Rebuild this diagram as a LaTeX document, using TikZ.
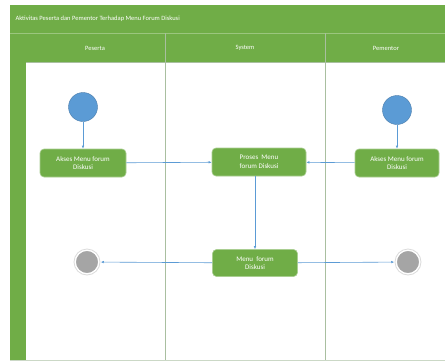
\documentclass[tikz,border=0pt]{standalone}
\usepackage{fontspec}
\setmainfont{Carlito}
\usetikzlibrary{arrows.meta}
\definecolor{lgreen}{HTML}{70AD47}
\definecolor{lblue}{HTML}{5B9BD5}
\definecolor{lgray}{HTML}{A5A5A5}
\definecolor{ldiv}{HTML}{A9BFA0}
\tikzset{
  act/.style={draw=lgreen!60!white, line width=0.6pt, fill=lgreen, rounded corners=4pt, text=white, font=\fontsize{7}{8.5}\selectfont, align=center, minimum width=86pt, minimum height=28pt, inner sep=1pt},
  startnode/.style={circle, fill=lblue, draw=lblue!80!black, line width=0.4pt, minimum size=29pt, inner sep=0pt},
  endnode/.style={circle, fill=lgray, draw=white, line width=1.5pt, minimum size=26pt, inner sep=0pt, double=lgray!40, double distance=0.8pt},
  flow/.style={draw=lblue, line width=0.6pt, -{Latex[length=3pt,width=2.5pt]}},
  hdr/.style={text=white, font=\fontsize{6.5}{8}\selectfont}
}
\begin{document}
\begin{tikzpicture}[x=1pt,y=-1pt]
\useasboundingbox (0,0) rectangle (445,362);
\fill[white] (0,0) rectangle (445,362);
% frame
\fill[lgreen] (10,5) rectangle (445,33);
\fill[lgreen] (10,33) rectangle (26,360);
\fill[lgreen] (26,33) rectangle (445,62);
\draw[lgreen!70!white, line width=0.5pt] (10,33) -- (445,33);
\draw[ldiv, line width=0.6pt] (26,62) -- (445,62);
\draw[ldiv, line width=0.8pt] (165,33) -- (165,360);
\draw[ldiv, line width=0.8pt] (325,33) -- (325,360);
\draw[ldiv!60, line width=0.6pt] (10,360) -- (445,360);
\node[hdr, anchor=west] (title) at (12,19) {Aktivitas Peserta dan Pementor Terhadap Menu Forum Diskusi};
\node[hdr] (h1) at (95,48) {Peserta};
\node[hdr] (h2) at (245,48) {System};
\node[hdr] (h3) at (386,48) {Pementor};
% nodes
\node[startnode] (s1) at (83,107) {};
\node[startnode] (s2) at (397,110) {};
\node[act] (a1) at (83,163) {Akses Menu forum\\Diskusi};
\node[act, minimum width=94pt] (p) at (259,162) {Proses\ \ Menu\\forum Diskusi};
\node[act, minimum width=84pt] (a2) at (397,163) {Akses Menu forum\\Diskusi};
\node[act, minimum width=85pt, minimum height=27pt] (m) at (255,263) {Menu\ \ forum\\Diskusi};
\node[endnode] (e1) at (87,262) {};
\node[endnode] (e2) at (408,262) {};
% flows
\draw[flow] (s1) -- (a1);
\draw[flow] (s2) -- (a2);
\draw[flow] (a1) -- (p);
\draw[flow] (a2) -- (p);
\draw[flow] (p.south -| m.north) -- (m.north);
\draw[flow] (m) -- (e1);
\draw[flow] (m) -- (e2);
\end{tikzpicture}
\end{document}
